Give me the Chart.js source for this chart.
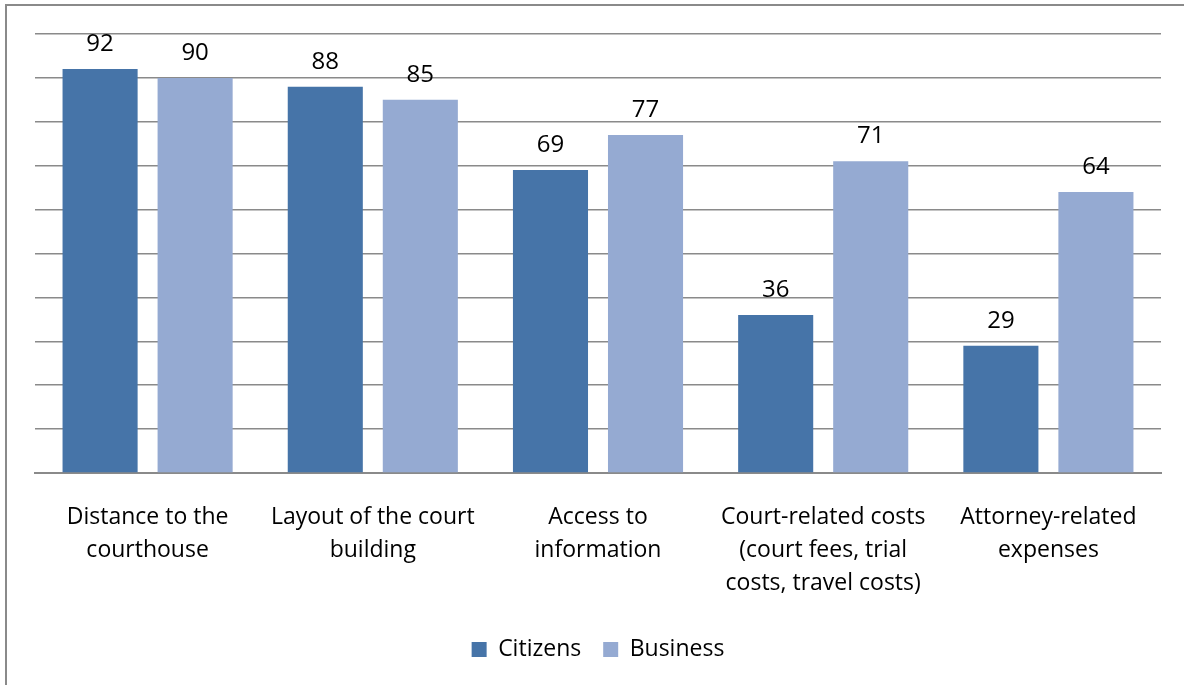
<!DOCTYPE html>
<html>
<head>
<meta charset="utf-8">
<script src="https://cdn.jsdelivr.net/npm/chart.js@4/dist/chart.umd.min.js"></script>
<style>
    body { margin: 0; background: #fff; }
    #wrap { position: relative; width: 1184px; height: 685px; overflow: hidden; }
    #frame {
        position: absolute; left: 5px; top: 4px; width: 1300px; height: 800px;
        border-top: 2px solid #8a8a8a; border-left: 2px solid #8a8a8a;
    }
    canvas { position: absolute; left: 0; top: 0; }
</style>
</head>
<body>
<div id="wrap">
    <div id="frame"></div>
    <canvas id="barChart" width="1184" height="685"></canvas>
</div>
<script>
// Categories and survey values
const categories = [
    ['Distance to the', 'courthouse'],
    ['Layout of the court', 'building'],
    ['Access to', 'information'],
    ['Court-related costs', '(court fees, trial', 'costs, travel costs)'],
    ['Attorney-related', 'expenses']
];
const citizens = [92, 88, 69, 36, 29];
const business = [90, 85, 77, 71, 64];

const fontFamily = '"Open Sans", "Noto Sans", sans-serif';

// Writes the value above each bar
const valueLabels = {
    id: 'valueLabels',
    afterDatasetsDraw(chart) {
        const ctx = chart.ctx;
        ctx.save();
        ctx.font = '24px ' + fontFamily;
        ctx.fillStyle = '#000';
        ctx.textAlign = 'center';
        ctx.textBaseline = 'alphabetic';
        chart.data.datasets.forEach((ds, i) => {
            chart.getDatasetMeta(i).data.forEach((bar, j) => {
                ctx.fillText(ds.data[j], bar.x, bar.y - 18);
            });
        });
        ctx.restore();
    }
};

const ctx = document.getElementById('barChart').getContext('2d');
new Chart(ctx, {
    type: 'bar',
    data: {
        labels: categories,
        datasets: [
            {
                label: 'Citizens',
                data: citizens,
                backgroundColor: '#4674a8',
                categoryPercentage: 0.844,
                barPercentage: 0.79
            },
            {
                label: 'Business',
                data: business,
                backgroundColor: '#95aad2',
                categoryPercentage: 0.844,
                barPercentage: 0.79
            }
        ]
    },
    options: {
        responsive: false,
        animation: false,
        layout: { padding: { top: 34, left: 35, right: 23, bottom: 14 } },
        scales: {
            x: {
                grid: { display: false },
                border: { color: '#8a8a8a', width: 2 },
                ticks: {
                    color: '#000',
                    padding: 20,
                    maxRotation: 0,
                    autoSkip: false,
                    font: { family: fontFamily, size: 23, lineHeight: 1.43 }
                },
                afterFit(scale) { scale.height = 143; }
            },
            y: {
                min: 0,
                max: 100,
                ticks: { stepSize: 10, display: false },
                border: { display: false },
                grid: { color: '#8a8a8a', lineWidth: 1.5, drawTicks: false },
                afterFit(scale) { scale.width = 0; }
            }
        },
        plugins: {
            legend: {
                position: 'bottom',
                labels: {
                    color: '#000',
                    boxWidth: 15,
                    boxHeight: 15,
                    padding: 22,
                    font: { family: fontFamily, size: 23 }
                }
            },
            tooltip: { enabled: false }
        }
    },
    plugins: [valueLabels]
});
</script>
</body>
</html>
